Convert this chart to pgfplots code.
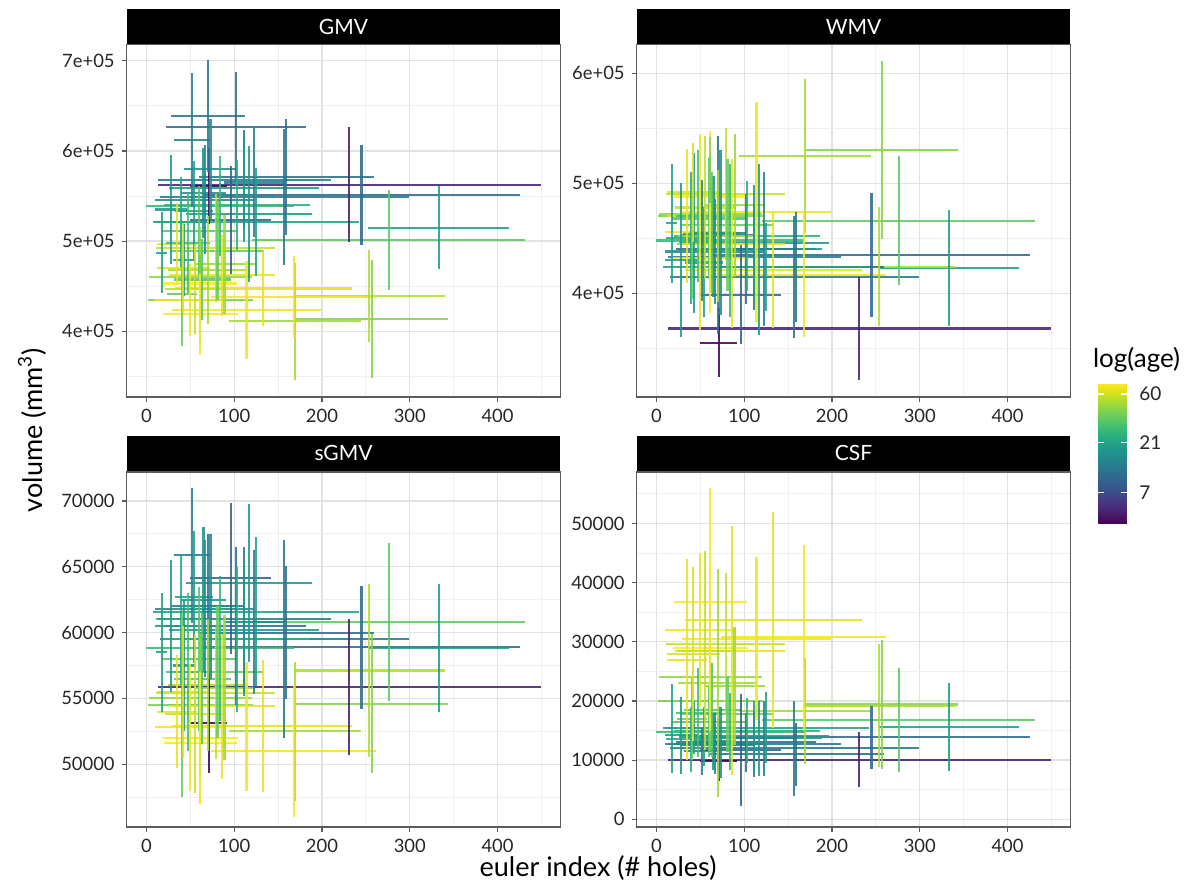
\documentclass[border=0pt]{standalone}
\usepackage{pgfplots}
\pgfplotsset{compat=1.18}
\usepackage{pgfplotstable}
\usepackage{fontspec}
\setmainfont{Lato}

% xc = mean euler index, xsd = spread; c = log(age)
% gm/gms GMV, wm/wms WMV, sg/sgs sGMV, cs/css CSF (centre, half-length)
\pgfplotstableread{
xc xsd c gm gms wm wms sg sgs cs css
231 218 1.55 562500 63500 368000 46500 55860 5180 10050 4640
245 180 2.30 551000 55500 435000 56500 58890 4670 13870 5290
333 80.5 2.95 515000 46000 423000 52600 58830 4865 15590 7390
276 155.5 3.55 501500 55500 466000 58700 60800 6035 16820 8800
257 87 3.75 413500 65500 530000 81000 54600 5300 19400 10960
254 86 3.95 439000 51000 424000 54000 57120 6570 19200 10400
169 75 3.9 411000 65000 525000 70000 52500 5300 18300 9000
133 101 4.2 447500 42000 421000 53000 52900 4980 33700 18200
168 94 4.25 438000 45000 417000 57000 51000 5000 30840 15500
114 84.5 4.25 423500 54500 474000 100000 52900 4900 30500 13800
61.4 41.7 4.3 453000 50000 488000 60000 51600 4600 36750 19330
79 68 4.05 492000 60000 490000 60000 55400 5000 29560 12000
71 21 1.3 561000 42500 355000 31500 53130 3800 9900 3400
70 42 2.45 638700 62000 453000 90000 62000 5500 12500 4500
102 80 2.35 627000 61000 440000 50000 60500 6000 13000 5000
52 21 2.6 612000 74000 448000 55000 65880 5130 11500 4000
159.5 99.5 2.4 571000 64000 424000 50000 59980 5050 11000 5300
157 142 2.5 549000 75000 414500 55500 59500 7500 12000 8000
96 46 2.2 523000 60000 398500 45000 64120 5750 11750 9450
117 71.5 2.9 530000 75000 440000 78000 63740 6000 13700 6300
125 117 3.0 521500 60000 424000 40000 61590 5680 15500 6000
111.5 98.5 2.5 568000 55000 433000 48000 61000 5500 12700 5500
111.5 85.5 2.9 559000 60000 446000 52000 60200 5000 14000 6000
103 83 3.2 540000 50000 452000 50000 59500 5500 15000 5500
84 84 3.3 539000 55000 448000 70000 58800 5500 14800 6500
39 28 3.1 521500 50000 450000 60000 61000 5000 13500 5500
17.5 6.5 3.0 487000 45000 463600 54000 58500 4500 15400 7500
43 13 2.9 479000 40000 455000 73000 57500 5000 15500 4500
66.5 56.5 2.7 546000 60000 438000 48000 61800 5200 12800 5200
65 26 2.8 553000 50000 452000 55000 62500 5500 13200 4800
54.5 21.5 3.0 533500 55000 428000 50000 62700 5000 14000 5000
60 42 3.5 511500 50000 468000 55000 58000 5500 16500 6000
81 53 3.6 489500 55000 462000 60000 57000 5000 17800 6500
89 35 3.85 474500 55000 480000 65000 55800 5500 22500 10000
61.5 58.5 3.8 460500 55000 472000 70000 55000 5000 24000 11000
63.5 32.5 3.5 457500 45000 455000 55000 56500 5000 18500 8000
41 17 3.6 441000 57000 445000 50000 54500 7000 17000 7000
61.5 59.5 3.7 434500 50000 470000 55000 54500 5500 20000 8500
35 23 4.2 497000 45000 470000 61000 54000 4300 27000 17000
61.5 42.5 4.3 419000 45000 432000 50000 52000 5000 29000 14000
50 40 4.25 435000 40000 456000 89000 52800 4800 32000 13000
86 60 4.2 462000 45000 445000 77000 54400 5500 28500 21000
42 30 4.15 470000 50000 492000 45000 55500 5000 28000 14700
28 18 2.9 535000 60000 430000 70000 60500 5000 14200 6500
47 25 3.4 498000 55000 470000 60000 57000 6000 18000 7500
55.7 35 4.05 447000 50000 478000 65000 53800 6000 28500 16800
73 30 2.75 580000 55000 455000 75000 62000 5500 12900 6000
69.7 45 3.9 468000 60000 452000 60000 56000 5000 23000 19300
123 35 2.6 565000 60000 440000 70000 60800 5500 13700 6300
}\subj

\definecolor{gridmaj}{HTML}{E2E2E2}
\definecolor{gridmin}{HTML}{EFEFEF}
\definecolor{frame}{HTML}{5C5C5C}

\pgfplotsset{
  panel/.style={
    scale only axis, width=216.8pt,
    xmin=-22.45, xmax=471.45,
    xtick={0,100,200,300,400}, xticklabels={0,100,200,300,400},
    minor xtick={50,150,250,350,450},
    scaled x ticks=false, scaled y ticks=false,
    grid=both,
    major grid style={draw=gridmaj, line width=0.65pt},
    minor grid style={draw=gridmin, line width=0.4pt},
    axis line style={draw=frame, line width=0.6pt},
    tick pos=left, tick align=outside,
    major tick length=2.5pt, minor tick length=0pt,
    tick style={draw=frame, line width=0.6pt},
    tick label style={font=\fontsize{9.2}{10}\selectfont, text=black!85},
    colormap/viridis,
    point meta min=1.27, point meta max=4.31,
  },
  seg/.style={point meta=explicit, draw opacity=0.88, line width=1.05pt, line cap=butt},
}

\begin{document}
\begin{tikzpicture}
\useasboundingbox (0,0) rectangle (597pt,441pt);

% GMV
\begin{axis}[panel, at={(63.35pt,242.5pt)}, anchor=south west, height=176.35pt,
  ymin=327200, ymax=718200,
  ytick={400000,500000,600000,700000}, yticklabels={4e+05,5e+05,6e+05,7e+05},
  minor ytick={350000,450000,550000,650000}]
\addplot[seg, quiver={u=2*\thisrow{xsd}, v=0, colored}]
  table[x expr=\thisrow{xc}-\thisrow{xsd}, y=gm, meta=c]{\subj};
\addplot[seg, quiver={u=0, v=2*\thisrow{gms}, colored}]
  table[x=xc, y expr=\thisrow{gm}-\thisrow{gms}, meta=c]{\subj};
\end{axis}

% WMV
\begin{axis}[panel, at={(318.35pt,242.5pt)}, anchor=south west, height=176.35pt,
  ymin=305700, ymax=626400,
  ytick={400000,500000,600000}, yticklabels={4e+05,5e+05,6e+05},
  minor ytick={350000,450000,550000},
  colorbar,
  colorbar style={at={(1.0646,0.0369)}, anchor=north west,
    scale only axis, width=14.5pt, height=70pt,
    ytick={1.9459,3.0445,4.0943}, yticklabels={7,21,60},
    ytick pos=both, yticklabel pos=right,
    tick align=inside, major tick length=3pt,
    tick style={draw=white, line width=0.6pt},
    axis line style={draw=none}, grid=none,
    yticklabel style={font=\fontsize{9.5}{11}\selectfont, xshift=2.5pt}}]
\addplot[seg, quiver={u=2*\thisrow{xsd}, v=0, colored}]
  table[x expr=\thisrow{xc}-\thisrow{xsd}, y=wm, meta=c]{\subj};
\addplot[seg, quiver={u=0, v=2*\thisrow{wms}, colored}]
  table[x=xc, y expr=\thisrow{wm}-\thisrow{wms}, meta=c]{\subj};
\end{axis}

% sGMV
\begin{axis}[panel, at={(63.35pt,27.5pt)}, anchor=south west, height=177.5pt,
  ymin=45230, ymax=72200,
  ytick={50000,55000,60000,65000,70000}, yticklabels={50000,55000,60000,65000,70000},
  minor ytick={47500,52500,57500,62500,67500}]
\addplot[seg, quiver={u=2*\thisrow{xsd}, v=0, colored}]
  table[x expr=\thisrow{xc}-\thisrow{xsd}, y=sg, meta=c]{\subj};
\addplot[seg, quiver={u=0, v=2*\thisrow{sgs}, colored}]
  table[x=xc, y expr=\thisrow{sg}-\thisrow{sgs}, meta=c]{\subj};
\end{axis}

% CSF
\begin{axis}[panel, at={(318.35pt,27.5pt)}, anchor=south west, height=177.5pt,
  ymin=-1300, ymax=58700,
  ytick={0,10000,20000,30000,40000,50000}, yticklabels={0,10000,20000,30000,40000,50000},
  minor ytick={5000,15000,25000,35000,45000,55000}]
\addplot[seg, quiver={u=2*\thisrow{xsd}, v=0, colored}]
  table[x expr=\thisrow{xc}-\thisrow{xsd}, y=cs, meta=c]{\subj};
\addplot[seg, quiver={u=0, v=2*\thisrow{css}, colored}]
  table[x=xc, y expr=\thisrow{cs}-\thisrow{css}, meta=c]{\subj};
\end{axis}

% strips
\fill[black] (63.35pt,418.85pt) rectangle (280.15pt,436.5pt);
\fill[black] (318.35pt,418.85pt) rectangle (535.15pt,436.5pt);
\fill[black] (63.35pt,205.5pt) rectangle (280.15pt,223.2pt);
\fill[black] (318.35pt,205.5pt) rectangle (535.15pt,223.2pt);
\node[text=white, font=\fontsize{10.5}{12}\selectfont] at (171.75pt,427.7pt) {GMV};
\node[text=white, font=\fontsize{10.5}{12}\selectfont] at (426.75pt,427.7pt) {WMV};
\node[text=white, font=\fontsize{10.5}{12}\selectfont] at (171.75pt,214.3pt) {sGMV};
\node[text=white, font=\fontsize{10.5}{12}\selectfont] at (426.75pt,214.3pt) {CSF};

% titles
\node[font=\fontsize{13.5}{15}\selectfont] at (299pt,7pt) {euler index (\# holes)};
\node[font=\fontsize{13.5}{15}\selectfont, rotate=90] at (16pt,226pt) {volume (mm\textsuperscript{3})};
\node[anchor=west, font=\fontsize{13}{15}\selectfont] at (543pt,261pt) {log(age)};
\end{tikzpicture}
\end{document}
